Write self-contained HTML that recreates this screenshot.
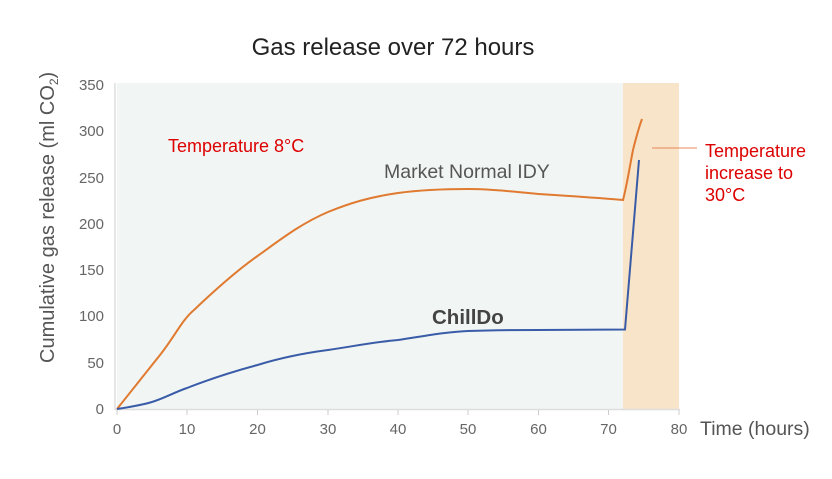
<!DOCTYPE html>
<html><head><style>
body{margin:0;background:#fff;width:832px;height:474px;overflow:hidden}
text{font-family:"Liberation Sans",sans-serif}
</style></head><body>
<svg width="832" height="474" viewBox="0 0 832 474">
<text x="393" y="55" font-size="24" text-anchor="middle" fill="#222">Gas release over 72 hours</text>
<rect x="117" y="83" width="506" height="326" fill="#f1f6f4"/>
<rect x="623" y="83" width="56" height="326" fill="#f8e4c8"/>
<line x1="115" y1="83" x2="115" y2="410" stroke="#ddd" stroke-width="1.5"/>
<line x1="115" y1="409.5" x2="680" y2="409.5" stroke="#ddd" stroke-width="1.5"/>
<g stroke="#ccc"><line x1="117" y1="410" x2="117" y2="415"/><line x1="187" y1="410" x2="187" y2="415"/><line x1="257.5" y1="410" x2="257.5" y2="415"/><line x1="328" y1="410" x2="328" y2="415"/><line x1="398" y1="410" x2="398" y2="415"/><line x1="468" y1="410" x2="468" y2="415"/><line x1="538.5" y1="410" x2="538.5" y2="415"/><line x1="608.5" y1="410" x2="608.5" y2="415"/><line x1="679" y1="410" x2="679" y2="415"/></g>
<g font-size="15" fill="#666" text-anchor="middle">
<text x="117" y="434">0</text><text x="187" y="434">10</text><text x="257.5" y="434">20</text><text x="328" y="434">30</text><text x="398" y="434">40</text><text x="468" y="434">50</text><text x="538.5" y="434">60</text><text x="608.5" y="434">70</text><text x="679" y="434">80</text></g>
<g font-size="15" fill="#666" text-anchor="end">
<text x="104" y="414">0</text><text x="104" y="368">50</text><text x="104" y="321">100</text><text x="104" y="275">150</text><text x="104" y="229">200</text><text x="104" y="183">250</text><text x="104" y="136">300</text><text x="104" y="90">350</text></g>
<text x="700" y="435" font-size="19.5" fill="#555">Time (hours)</text>
<text transform="translate(54,363) rotate(-90)" font-size="20" fill="#555">Cumulative gas release (ml CO<tspan font-size="12" dy="4">2</tspan><tspan dy="-4">)</tspan></text>
<text x="168" y="152" font-size="18" fill="#d00">Temperature 8°C</text>
<text x="384" y="178" font-size="19.5" fill="#555">Market Normal IDY</text>
<text x="432" y="324" font-size="20.5" font-weight="bold" fill="#444">ChillDo</text>
<line x1="652" y1="148" x2="697" y2="148" stroke="#e8875a" stroke-width="1"/>
<g font-size="18" fill="#d00"><text x="705" y="157">Temperature</text><text x="705" y="179">increase to</text><text x="705" y="201">30°C</text></g>
<path d="M117,409 L160,355 C175,336 182,320 194,310 C215,290 235,272 257.5,256 C280,240 300,224 328,212 C350,203 370,197 398,193 C420,190 445,189 468,189 C495,189 515,192 538.5,194 C570,196 600,198 623,200 C627,185 630,165 633,150 C636,138 639,127 642,119" fill="none" stroke="#e07a30" stroke-width="2"/>
<path d="M117,409 C130,407 142,405 152,402 C165,398 175,392 187,388 C210,379 235,371 257.5,365 C280,358 305,353 328,350 C355,346 375,342 398,340 C425,336 445,332 468,331 C500,330 520,330 538.5,330 L625,329.5 L639,160" fill="none" stroke="#3a5ca8" stroke-width="2"/>
</svg>
</body></html>
